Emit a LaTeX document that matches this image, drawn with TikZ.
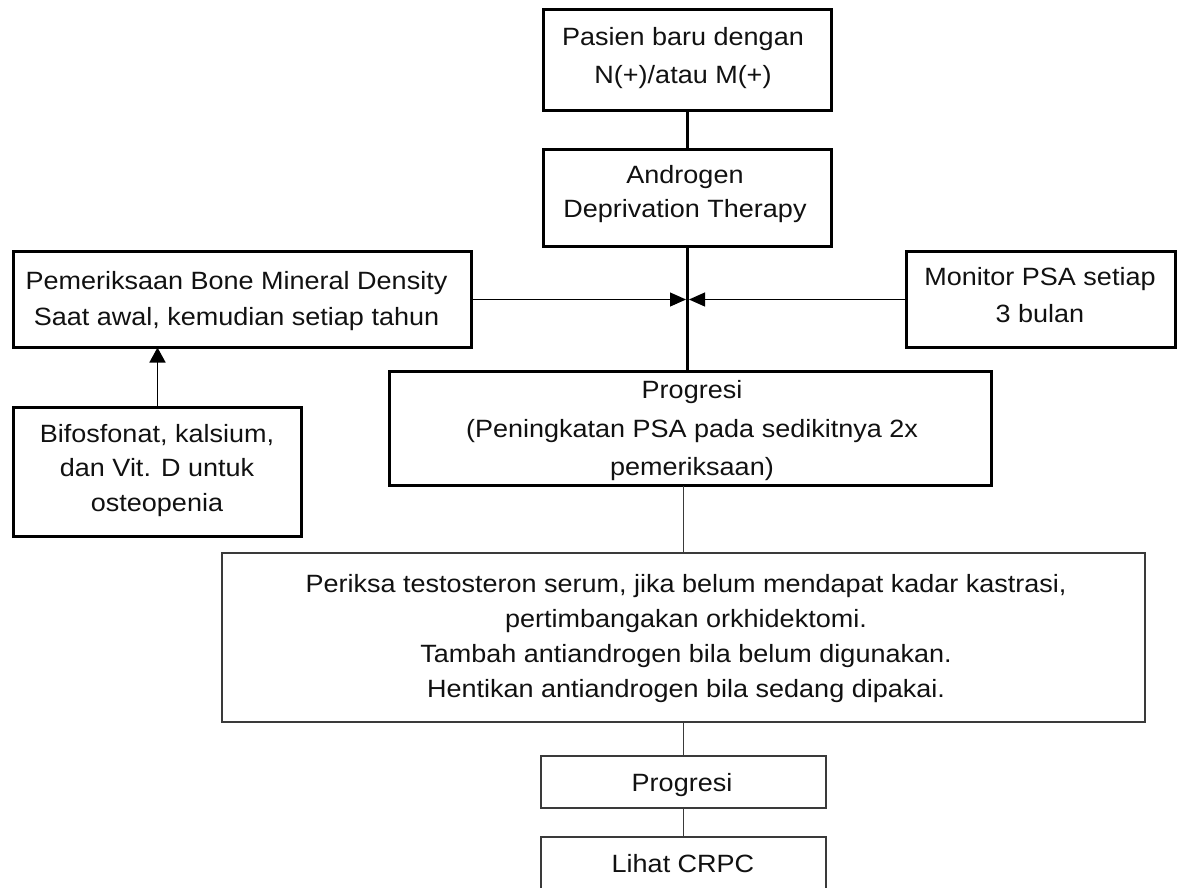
\documentclass[tikz,border=0pt]{standalone}
\usepackage{fontspec}
\setmainfont{Liberation Sans}[FakeStretch=1.08]
\usetikzlibrary{arrows.meta}
\definecolor{darkline}{HTML}{3A3A3A}
\definecolor{inktext}{HTML}{111111}
\begin{document}
\begin{tikzpicture}[x=1pt,y=-1pt,
  heavybox/.style={draw=black, line width=3pt, inner sep=0pt, outer sep=0pt},
  lightbox/.style={draw=darkline, line width=1.8pt, inner sep=0pt, outer sep=0pt},
  % text nodes are anchored at the baseline of their last line
  txt/.style={anchor=base, align=center, inner sep=0pt, text=inktext,
              font=\fontsize{25}{#1}\selectfont},
  heavylink/.style={draw=black, line width=3pt},
  lightlink/.style={draw=darkline, line width=1.8pt},
  sidearrow/.style={draw=black, line width=1.1pt, -{Triangle[length=16pt,width=14pt]}},
  uparrow/.style={draw=black, line width=1.6pt, -{Triangle[length=15pt,width=16pt]}}]
\useasboundingbox (0,0) rectangle (1177,887);

% boxes
\node[heavybox, minimum width=288, minimum height=101] (start) at (687.5,60) {};
\node[heavybox, minimum width=288, minimum height=97]  (adt)   at (687.5,198) {};
\node[heavybox, minimum width=458, minimum height=96]  (bmd)   at (242.5,299.5) {};
\node[heavybox, minimum width=269, minimum height=96]  (psa)   at (1041,299.5) {};
\node[heavybox, minimum width=288, minimum height=129] (bif)   at (157.5,472) {};
\node[heavybox, minimum width=602, minimum height=114] (prog)  at (690.5,428.5) {};
\node[lightbox, minimum width=923, minimum height=169] (check) at (683.5,637.5) {};
\node[lightbox, minimum width=285, minimum height=52]  (prog2) at (683.5,782) {};
\node[lightbox, minimum width=285, minimum height=70]  (crpc)  at (683.5,872) {};

% texts
\node[txt=38] (tstart) at (683,83.5) {Pasien baru dengan\\N(+)/atau M(+)};
\node[txt=34] (tadt) at (685,217) {Androgen\\Deprivation Therapy};
\node[txt=36] (tbmd) at (236.5,325) {Pemeriksaan Bone Mineral Density\\Saat awal, kemudian setiap tahun};
\node[txt=37] (tpsa) at (1040,322) {Monitor PSA setiap\\3 bulan};
\node[txt=34.5] (tbif) at (157,511) {Bifosfonat, kalsium,\\dan Vit. D untuk\\osteopenia};
\node[txt=38.5] (tprog) at (692,475.5) {Progresi\\(Peningkatan PSA pada sedikitnya 2x\\pemeriksaan)};
\node[txt=35] (tcheck) at (686,697) {Periksa testosteron serum, jika belum mendapat kadar kastrasi,\\pertimbangakan orkhidektomi.\\Tambah antiandrogen bila belum digunakan.\\Hentikan antiandrogen bila sedang dipakai.};
\node[txt=35] (tprog2) at (682,791) {Progresi};
\node[txt=35] (tcrpc) at (683,872) {Lihat CRPC};

% connectors
\draw[heavylink] (start.south) -- (adt.north);
\draw[heavylink] (adt.south) -- (adt.south |- prog.north);
\coordinate (meet) at (adt.south |- bmd.east);
\draw[sidearrow] (bmd.east) -- ([xshift=-1.5pt]meet);
\draw[sidearrow] (psa.west) -- ([xshift=1.5pt]meet);
\draw[uparrow] (bif.north) -- (bif.north |- bmd.south);
\draw[lightlink] (check.north |- prog.south) -- (check.north);
\draw[lightlink] (check.south) -- (prog2.north);
\draw[lightlink] (prog2.south) -- (crpc.north);
\end{tikzpicture}
\end{document}
